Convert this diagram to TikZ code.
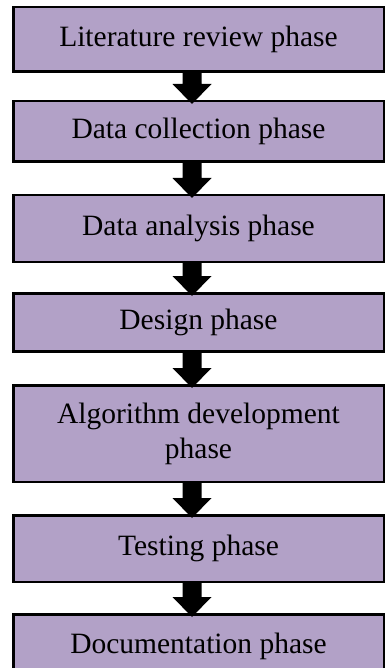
\documentclass[tikz,border=0pt]{standalone}
\usepackage{fontspec}
\setmainfont{Liberation Serif}
\usetikzlibrary{calc}

\definecolor{phasefill}{HTML}{B2A1C7}

\tikzset{
  phase/.style={
    rectangle, draw=black, line width=2.5pt, fill=phasefill,
    minimum width=370.5pt, align=center, inner sep=0pt,
    font=\fontsize{29.5}{35}\selectfont
  },
  % block arrow drawn as a filled outline from the start point down to the tip
  flowarrow/.style={
    to path={
      let \p1=(\tikztostart), \p2=(\tikztotarget) in
      (\x1-9.5pt,\y1+1pt) -- (\x1+9.5pt,\y1+1pt) -- (\x1+9.5pt,\y2+16pt)
      -- (\x1+19.5pt,\y2+16pt) -- (\x2,\y2-4pt) -- (\x1-19.5pt,\y2+16pt)
      -- (\x1-9.5pt,\y2+16pt) -- cycle
    }
  },
  arrowfill/.style={fill=black, draw=none}
}

\begin{document}
\begin{tikzpicture}[x=1pt, y=-1pt]
  \useasboundingbox (0,0) rectangle (385,668);
  \clip (0,0) rectangle (385,668);

  % phase boxes, top to bottom
  \node[phase, minimum height=64.5pt] (b1) at (198.5,39.5)  {Literature review phase};
  \node[phase, minimum height=60.5pt] (b2) at (198.5,131.5) {Data collection phase};
  \node[phase, minimum height=66.5pt] (b3) at (198.5,228.5) {Data analysis phase};
  \node[phase, minimum height=58pt]   (b4) at (198.5,322.25) {Design phase};
  \node[phase, minimum height=96.5pt] (b5) at (198.5,433.5) {Algorithm development\\phase};
  \node[phase, minimum height=66.5pt] (b6) at (198.5,548.5) {Testing phase};
  \node[phase, minimum height=64.5pt] (b7) at (198.5,646.5) {Documentation phase};

  % vertical line on which the arrows sit
  \coordinate (ax) at (192,0);

  % arrows between consecutive phases
  \path[arrowfill] (b1.south -| ax) to[flowarrow] (b2.north -| ax);
  \path[arrowfill] (b2.south -| ax) to[flowarrow] (b3.north -| ax);
  \path[arrowfill] (b3.south -| ax) to[flowarrow] (b4.north -| ax);
  \path[arrowfill] (b4.south -| ax) to[flowarrow] (b5.north -| ax);
  \path[arrowfill] (b5.south -| ax) to[flowarrow] (b6.north -| ax);
  \path[arrowfill] (b6.south -| ax) to[flowarrow] (b7.north -| ax);
\end{tikzpicture}
\end{document}
